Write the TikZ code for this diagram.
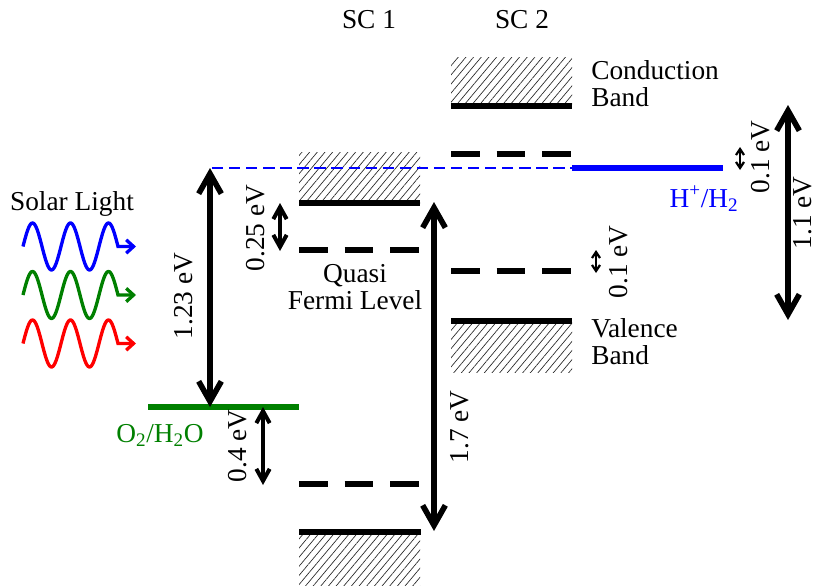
\documentclass[tikz,border=0pt]{standalone}
\usepackage{fontspec}
\setmainfont{Liberation Serif}
\usetikzlibrary{arrows.meta, positioning, patterns.meta}

\begin{document}
\begin{tikzpicture}[
        x=0.75pt, y=-0.75pt,
        font=\fontsize{20.5}{20.3}\selectfont,
        % This defines the style of the band edges and quasi Fermi levels
        band/.style={line width=4.3pt},
        fermi/.style={line width=4.3pt, dash pattern=on 21.4pt off 12.9pt},
        % This defines the hatched band regions
        hatchbox/.style={pattern={Lines[angle=50, distance=4.4pt, line width=0.5pt]}, pattern color=black!85},
        % This defines the style of the energy arrows
        bigarrow/.style={{Straight Barb[length=15pt, width=17pt]}-{Straight Barb[length=15pt, width=17pt]}, line width=4.2pt},
        midarrow/.style={{Straight Barb[length=9pt, width=10pt]}-{Straight Barb[length=9pt, width=10pt]}, line width=3pt},
        tinyarrow/.style={{Straight Barb[length=4.5pt, width=6pt]}-{Straight Barb[length=4.5pt, width=6pt]}, line width=1.7pt},
        % This defines the style of the light waves
        wave/.style={line width=2.5pt, -{Straight Barb[length=5.5pt, width=10pt]}},
        % This defines the style of the rotated energy labels
        vlabel/.style={rotate=90, inner sep=0pt},
        lbl/.style={inner sep=0pt, align=left}
    ]
    \useasboundingbox (0,0) rectangle (816,585);

    % --- THE HATCHED BANDS ---
    \fill[hatchbox] (299,152) rectangle (420,203);
    \fill[hatchbox] (299,532) rectangle (420,585);
    \fill[hatchbox] (451,58) rectangle (572,106);
    \fill[hatchbox] (451,321) rectangle (572,372);

    % --- THE LEVELS ---
    \draw[band] (299,203) -- (420,203);
    \draw[fermi] (299,250) -- (420,250);
    \draw[fermi] (299,484) -- (420,484);
    \draw[band] (299,532) -- (421,532);
    \draw[band] (451,106) -- (572,106);
    \draw[fermi] (451,154) -- (572,154);
    \draw[fermi] (451,271) -- (572,271);
    \draw[band] (451,321) -- (572,321);

    % --- THE REDOX LEVELS ---
    \draw[blue, line width=1.6pt, dash pattern=on 8.5pt off 4.3pt] (212,168) -- (572,168);
    \draw[blue, line width=4.6pt] (572,168) -- (723,168);
    \draw[green!50!black, line width=4.6pt] (148,407) -- (299,407);

    % --- THE LABELS ---
    \node (sc1) [anchor=base] at (369,29) {SC 1};
    \node (sc2) [anchor=base] at (522,29) {SC 2};
    \node (cband) [lbl, anchor=west] at (591,84) {Conduction\\Band};
    \node (vband) [lbl, anchor=west] at (591,342) {Valence\\Band};
    \node (qfermi) [lbl, align=center] at (355,287) {Quasi\\Fermi Level};
    \node (hred) [anchor=base, text=blue] at (704,207) {H\textsuperscript{+}/H\textsubscript{2}};
    \node (oxred) [anchor=base, text=green!50!black] at (160,442) {O\textsubscript{2}/H\textsubscript{2}O};
    \node (solar) [anchor=base] at (72,210) {Solar Light};

    % --- THE LIGHT WAVES ---
    \draw[wave, blue] plot[domain=0:95, samples=90, smooth] ({\x+23}, {246.5-23.5*sin(\x*9.4737)}) -- (136,246.5);
    \draw[wave, green!50!black] plot[domain=0:95, samples=90, smooth] ({\x+23}, {295-23.5*sin(\x*9.4737)}) -- (136,295);
    \draw[wave, red] plot[domain=0:95, samples=90, smooth] ({\x+23}, {343.5-23.5*sin(\x*9.4737)}) -- (136,343.5);

    % --- THE ARROW ENDS ---
    \coordinate (e123t) at (210,168);
    \coordinate (e123b) at (210,407);
    \coordinate (e025t) at (280,203);
    \coordinate (e025b) at (280,251);
    \coordinate (e04t) at (263,407);
    \coordinate (e04b) at (263,485);
    \coordinate (e17t) at (434,202);
    \coordinate (e17b) at (434,531);
    \coordinate (e01lt) at (596,250);
    \coordinate (e01lb) at (596,273);
    \coordinate (e01ut) at (740,147);
    \coordinate (e01ub) at (740,170);
    \coordinate (e11t) at (788,105);
    \coordinate (e11b) at (788,320);

    % --- THE ENERGY ARROWS ---
    \draw[bigarrow] (e123t) -- (e123b);
    \draw[midarrow] (e025t) -- (e025b);
    \draw[midarrow] (e04t) -- (e04b);
    \draw[bigarrow] (e17t) -- (e17b);
    \draw[tinyarrow] (e01lt) -- (e01lb);
    \draw[tinyarrow] (e01ut) -- (e01ub);
    \draw[bigarrow] (e11t) -- (e11b);

    % --- THE ENERGY LABELS ---
    \node (l123) [vlabel] at (184,296) {1.23 eV};
    \node (l025) [vlabel] at (256,228) {0.25 eV};
    \node (l04) [vlabel] at (238,446) {0.4 eV};
    \node (l17) [vlabel] at (460,427) {1.7 eV};
    \node (l01l) [vlabel] at (619,262) {0.1 eV};
    \node (l01u) [vlabel] at (761,157) {0.1 eV};
    \node (l11) [vlabel] at (803,213) {1.1 eV};

    \end{tikzpicture}
\end{document}
